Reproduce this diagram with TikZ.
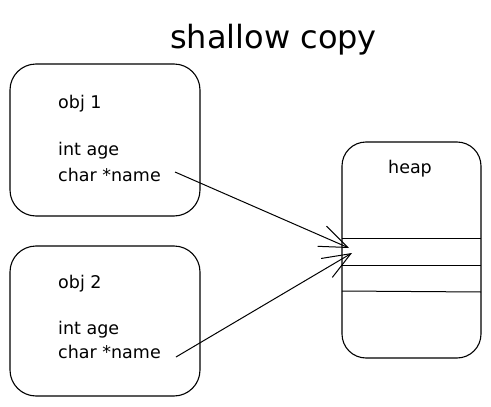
\documentclass[tikz,border=0pt]{standalone}
\usepackage{fontspec}
\setmainfont{DejaVu Sans}
\usetikzlibrary{arrows.meta}
\begin{document}
\begin{tikzpicture}[x=1pt,y=-1pt,
  objbox/.style={draw, line width=1.1pt, rounded corners=26pt, inner sep=0pt},
  lbl/.style={anchor=base west, inner sep=0pt, font=\fontsize{17.5}{20}\selectfont},
  thin line/.style={line width=1pt},
  ptr/.style={line width=1pt, -{Straight Barb[length=28pt,width=22pt,line width=1pt]}}]
\useasboundingbox (0,0) rectangle (491,407);
% title
\node[anchor=base west, inner sep=0pt, font=\fontsize{32}{36}\selectfont] (title) at (170,48) {shallow copy};
% object boxes
\node[objbox, minimum width=190pt, minimum height=152pt] (obj1) at (105,140) {};
\node[objbox, minimum width=190pt, minimum height=150pt] (obj2) at (105,321) {};
\node[objbox, minimum width=139pt, minimum height=216pt, rounded corners=24pt] (heap) at (411.5,250) {};
% labels
\node[lbl] (o1) at (58,108) {obj 1};
\node[lbl] (age1) at (58,155) {int age};
\node[lbl] (name1) at (58,181) {char *name};
\node[lbl] (o2) at (58,288) {obj 2};
\node[lbl] (age2) at (58,334) {int age};
\node[lbl] (name2) at (58,358) {char *name};
\node[anchor=base, inner sep=0pt, font=\fontsize{17.5}{20}\selectfont] (heaplbl) at (410,173) {heap};
% heap slots
\coordinate (s1l) at (342,238); \coordinate (s1r) at (481,238);
\coordinate (s2l) at (342,265); \coordinate (s2r) at (481,265);
\coordinate (s3l) at (342,291); \coordinate (s3r) at (481,292);
\draw[thin line] (s1l) -- (s1r);
\draw[thin line] (s2l) -- (s2r);
\draw[thin line] (s3l) -- (s3r);
% pointers
\coordinate (p1s) at (175,172);
\coordinate (p2s) at (176,357);
\coordinate (t1) at (349,248);
\coordinate (t2) at (352,253);
\draw[ptr] (p1s) -- (t1);
\draw[ptr] (p2s) -- (t2);
\end{tikzpicture}
\end{document}
